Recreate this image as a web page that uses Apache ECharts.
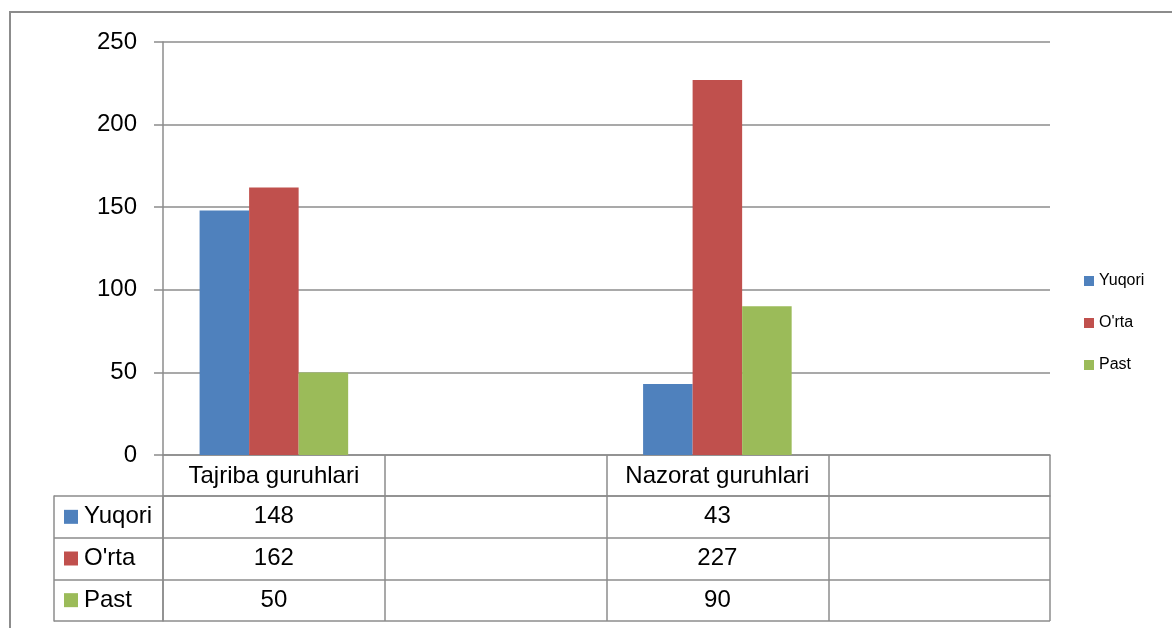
<!DOCTYPE html>
<html>
<head>
<meta charset="utf-8">
<script src="https://cdn.jsdelivr.net/npm/echarts@6/dist/echarts.min.js"></script>
<style>
html,body{margin:0;padding:0;background:#fff;}
#chart{width:1172px;height:628px;}
</style>
</head>
<body>
<div id="chart"></div>
<script>
// ---- Data ----
var groups = ['Tajriba guruhlari', 'Nazorat guruhlari'];
var seriesNames = ['Yuqori', "O'rta", 'Past'];
var yuqori = [148, 43];
var orta = [162, 227];
var past = [50, 90];
var yTicks = [0, 50, 100, 150, 200, 250];

var colors = ['#4F81BD', '#C0504D', '#9BBB59'];
var gridColor = '#8c8c8c';
var font = 'Liberation Sans';

// Excel layout shows each group followed by an empty category
var categories = [];
groups.forEach(function (g) { categories.push(g); categories.push(''); });
function spread(arr) {
  var out = [];
  arr.forEach(function (v) { out.push(v); out.push('-'); });
  return out;
}
var valuesBySeries = [yuqori, orta, past];

// table cells
var cellData = [];
groups.forEach(function (g, gi) {
  valuesBySeries.forEach(function (vals, si) {
    cellData.push([gi * 2, si, vals[gi]]);
  });
});

var lineStyle = { color: gridColor, width: 1.5 };
var rich = { t: { fontSize: 24, fontFamily: font, color: '#000', padding: [0, 0, 0, 6] } };
colors.forEach(function (c, i) {
  rich['s' + i] = { width: 14, height: 14, backgroundColor: c };
});

var chart = echarts.init(document.getElementById('chart'));
chart.setOption({
  animation: false,
  backgroundColor: '#fff',
  textStyle: { fontFamily: font },
  graphic: [{
    type: 'rect',
    shape: { x: 10, y: 12, width: 1300, height: 800 },
    style: { fill: 'none', stroke: '#8c8c8c', lineWidth: 2 },
    silent: true
  }],
  legend: {
    data: seriesNames,
    orient: 'vertical',
    left: 1079,
    top: 268,
    itemWidth: 10,
    itemHeight: 10,
    itemGap: 26,
    icon: 'rect',
    textStyle: { fontSize: 16, color: '#000', fontFamily: font }
  },
  grid: [
    { left: 163, right: 122, top: 42, bottom: 173 },
    { left: 163, right: 122, top: 496, bottom: 7 }
  ],
  xAxis: [
    {
      type: 'category', gridIndex: 0, data: categories, boundaryGap: true,
      axisLine: { show: true, lineStyle: lineStyle },
      axisTick: { show: true, interval: 0, length: 41, lineStyle: lineStyle },
      axisLabel: { interval: 0, fontSize: 24, color: '#000', fontFamily: font, margin: 21, verticalAlign: 'middle' },
      splitLine: { show: false }
    },
    {
      type: 'category', gridIndex: 1, data: categories, boundaryGap: true, position: 'top',
      axisLine: { show: true, lineStyle: lineStyle },
      axisTick: { show: false },
      axisLabel: { show: false },
      splitLine: { show: true, interval: 0, lineStyle: lineStyle }
    }
  ],
  yAxis: [
    {
      type: 'value', gridIndex: 0, min: 0, max: 250, interval: 50,
      axisLine: { show: true, lineStyle: lineStyle },
      axisTick: { show: true, length: 9, lineStyle: lineStyle },
      axisLabel: { fontSize: 24, color: '#000', fontFamily: font, margin: 26,
        formatter: function (v) { return yTicks.indexOf(v) >= 0 ? String(v) : ''; } },
      splitLine: { show: true, lineStyle: lineStyle }
    },
    {
      type: 'category', gridIndex: 1, data: seriesNames, inverse: true, boundaryGap: true, position: 'left',
      axisLine: { show: true, lineStyle: lineStyle },
      axisTick: { show: true, interval: 0, length: 109, lineStyle: lineStyle },
      axisLabel: {
        interval: 0, align: 'left', margin: 99,
        formatter: function (v, i) { return '{s' + i + '|}{t|' + v + '}'; },
        rich: rich
      },
      splitLine: { show: true, interval: 0, lineStyle: lineStyle }
    },
    {
      type: 'category', gridIndex: 1, data: seriesNames, inverse: true, position: 'left', offset: 109,
      axisLine: { show: true, lineStyle: lineStyle },
      axisTick: { show: false },
      axisLabel: { show: false },
      splitLine: { show: false }
    }
  ],
  series: seriesNames.map(function (name, i) {
    return {
      name: name, type: 'bar', xAxisIndex: 0, yAxisIndex: 0,
      data: spread(valuesBySeries[i]),
      itemStyle: { color: colors[i] },
      barGap: '0%', barCategoryGap: '33%'
    };
  }).concat([{
    name: 'table', type: 'scatter', xAxisIndex: 1, yAxisIndex: 1,
    data: cellData, symbolSize: 0, silent: true,
    itemStyle: { opacity: 1 },
    label: {
      show: true, position: 'inside', fontSize: 24, color: '#000', fontFamily: font, opacity: 1,
      formatter: function (p) { return String(p.value[2]); }
    }
  }])
});
</script>
</body>
</html>
